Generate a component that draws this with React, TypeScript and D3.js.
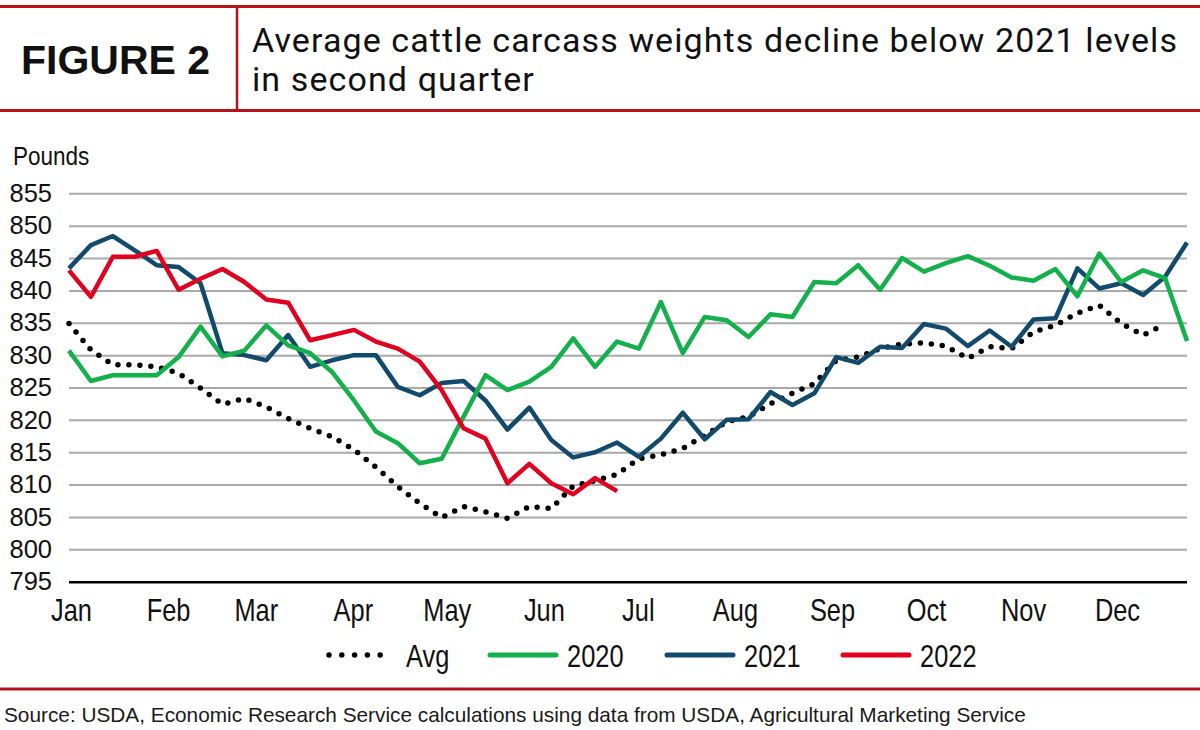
import { useRef, useEffect } from 'react'
import * as d3 from 'd3'

// weekly average carcass weights, pounds (week 0 = first week of Jan)
const months = ['Jan', 'Feb', 'Mar', 'Apr', 'May', 'Jun', 'Jul', 'Aug', 'Sep', 'Oct', 'Nov', 'Dec']
const monthStartDays = [0, 31, 59, 90, 120, 151, 181, 212, 243, 273, 304, 334]
const yTicks = [795, 800, 805, 810, 815, 820, 825, 830, 835, 840, 845, 850, 855]

const avgValues = [
  834.9, 830.8, 828.5, 828.5, 828.2, 827.2, 824.9, 822.4, 823.3, 822.0, 820.2, 818.7, 817.4,
  815.4, 812.7, 809.7, 807.1, 804.9, 806.6, 805.8, 804.8, 806.6, 806.3, 809.8, 810.6, 811.6,
  814.0, 814.6, 815.6, 817.6, 819.7, 820.5, 822.5, 824.1, 825.6, 829.2, 829.7, 831.0, 831.7,
  831.9, 831.4, 829.5, 831.3, 831.0, 833.6, 834.6, 836.5, 837.7, 834.9, 833.1, 834.8,
]
const values2020 = [
  830.7, 826.0, 826.9, 826.9, 826.9, 829.7, 834.4, 829.8, 830.7, 834.6, 831.5, 830.3, 827.4,
  823.0, 818.2, 816.4, 813.3, 814.0, 820.5, 826.9, 824.6, 825.9, 828.2, 832.6, 828.2, 832.1,
  831.0, 838.2, 830.3, 835.9, 835.4, 832.8, 836.3, 835.9, 841.3, 841.1, 843.9, 840.1, 845.0,
  842.9, 844.2, 845.3, 843.8, 842.0, 841.5, 843.3, 839.1, 845.7, 841.3, 843.1, 841.9, 832.2,
]
const values2021 = [
  843.4, 847.0, 848.4, 846.2, 843.9, 843.6, 841.1, 830.3, 830.0, 829.2, 833.1, 828.2, 829.2,
  830.0, 830.0, 825.1, 823.8, 825.7, 826.0, 823.0, 818.5, 821.9, 816.9, 814.2, 815.0, 816.5,
  814.3, 817.1, 821.1, 817.0, 820.0, 820.1, 824.3, 822.3, 824.1, 829.7, 828.8, 831.3, 831.1,
  834.8, 834.1, 831.4, 833.8, 831.3, 835.5, 835.7, 843.4, 840.3, 841.1, 839.3, 842.1, 847.4,
]
const values2022 = [
  843.1, 839.0, 845.2, 845.2, 846.1, 840.1, 841.8, 843.3, 841.3, 838.6, 838.1, 832.3, 833.1,
  833.9, 832.1, 831.0, 829.0, 824.6, 818.7, 817.1, 810.2, 813.2, 810.2, 808.5, 811.0, 809.0,
]

const series = [
  { name: 'Avg', values: avgValues, color: '#000000', dotted: true },
  { name: '2021', values: values2021, color: '#124a6c', dotted: false },
  { name: '2020', values: values2020, color: '#14b04c', dotted: false },
  { name: '2022', values: values2022, color: '#e0001f', dotted: false },
]
const legendOrder = ['Avg', '2020', '2021', '2022']

const sans = "'Liberation Sans', Arial, sans-serif"
const squeeze = 0.82 // condensed look for month and legend labels

const App = () => {
  const svgRef = useRef<SVGSVGElement>(null)

  useEffect(() => {
    const svg = d3.select(svgRef.current)
    svg.selectAll('*').remove()

    const plot = { left: 69, right: 1187, top: 193.3, bottom: 581.7 }
    const red = '#b5121b'

    const x = d3.scaleLinear().domain([0, 51]).range([plot.left, plot.right])
    const y = d3.scaleLinear().domain([795, 855]).range([plot.bottom, plot.top])

    svg.append('rect').attr('width', 1200).attr('height', 730).attr('fill', '#fff')

    // header
    svg.append('line').attr('x1', 0).attr('x2', 1200).attr('y1', 6.5).attr('y2', 6.5)
      .attr('stroke', red).attr('stroke-width', 3)
    svg.append('line').attr('x1', 0).attr('x2', 1200).attr('y1', 110.5).attr('y2', 110.5)
      .attr('stroke', red).attr('stroke-width', 3)
    svg.append('line').attr('x1', 237).attr('x2', 237).attr('y1', 6).attr('y2', 110)
      .attr('stroke', red).attr('stroke-width', 2.5)

    svg.append('text').text('FIGURE 2')
      .attr('x', 21).attr('y', 74)
      .attr('font-family', sans).attr('font-weight', 700).attr('font-size', 41)
      .attr('fill', '#111')

    const titleLines = ['Average cattle carcass weights decline below 2021 levels', 'in second quarter']
    titleLines.forEach((t, i) => {
      svg.append('text').text(t)
        .attr('x', 252).attr('y', 52 + i * 39)
        .attr('font-family', 'Roboto, sans-serif').attr('font-size', 34)
        .attr('letter-spacing', 1.1).attr('fill', '#111')
    })

    svg.append('text').text('Pounds')
      .attr('transform', 'translate(13,165) scale(0.9,1)')
      .attr('font-family', sans).attr('font-size', 25).attr('fill', '#111')

    // y axis with gridlines
    const yAxisGroup = svg.append('g')
      .attr('transform', `translate(${plot.left},0)`)
      .call(d3.axisLeft(y).tickValues(yTicks).tickSize(-(plot.right - plot.left)).tickPadding(17))
      .attr('font-family', sans).attr('font-size', 25.5)
    yAxisGroup.select('.domain').remove()
    yAxisGroup.selectAll<SVGLineElement, number>('.tick line')
      .attr('stroke', (d) => (d === 795 ? '#000' : '#a9a9a9'))
      .attr('stroke-width', (d) => (d === 795 ? 2.6 : 2))
    yAxisGroup.selectAll('.tick text').attr('fill', '#111')

    // x axis (month labels)
    const xAxisGroup = svg.append('g')
      .attr('transform', `translate(2,${plot.bottom})`)
      .call(
        d3.axisBottom(x)
          .tickValues(monthStartDays.map((d) => d / 7))
          .tickFormat((_, i) => months[i])
          .tickSize(0)
          .tickPadding(17)
      )
      .attr('font-family', sans).attr('font-size', 31)
    xAxisGroup.select('.domain').remove()
    xAxisGroup.selectAll('.tick text').attr('fill', '#111').attr('transform', `scale(${squeeze},1)`)

    // lines
    const lineGen = d3.line<number>()
      .x((_, i) => x(i))
      .y((d) => y(d))

    series.forEach((s) => {
      const path = svg.append('path')
        .attr('d', lineGen(s.values))
        .attr('fill', 'none')
        .attr('stroke', s.color)
        .attr('stroke-linejoin', 'round')
      if (s.dotted) {
        path.attr('stroke-width', 5.5).attr('stroke-linecap', 'round').attr('stroke-dasharray', '0 11')
      } else {
        path.attr('stroke-width', 4.5)
      }
    })

    // legend
    const legendX = [327, 490, 667, 843]
    const legend = svg.append('g').attr('transform', 'translate(0,655)')
    legendOrder.forEach((name, i) => {
      const s = series.find((d) => d.name === name)!
      const g = legend.append('g').attr('transform', `translate(${legendX[i]},0)`)
      const ln = g.append('line').attr('x1', 0).attr('x2', 66).attr('y1', 0).attr('y2', 0)
        .attr('stroke', s.color).attr('stroke-linecap', 'round')
      if (s.dotted) {
        ln.attr('x1', 2).attr('x2', 66).attr('stroke-width', 5.5).attr('stroke-dasharray', '0 12.8')
      } else {
        ln.attr('stroke-width', 5)
      }
      g.append('text').text(name)
        .attr('transform', `translate(${s.dotted ? 79 : 77},12) scale(${squeeze},1)`)
        .attr('font-family', sans).attr('font-size', 31).attr('fill', '#111')
    })

    // footer
    svg.append('line').attr('x1', 0).attr('x2', 1200).attr('y1', 689).attr('y2', 689)
      .attr('stroke', red).attr('stroke-width', 3)
    svg.append('text')
      .text('Source: USDA, Economic Research Service calculations using data from USDA, Agricultural Marketing Service')
      .attr('x', 4).attr('y', 722)
      .attr('font-family', sans).attr('font-size', 20.8).attr('fill', '#1a1a1a')
  }, [])

  return (
    <div style={{ position: 'absolute', left: 0, top: 0 }}>
      <svg ref={svgRef} width="1200" height="730" style={{ display: 'block' }}></svg>
    </div>
  )
}

export default App
